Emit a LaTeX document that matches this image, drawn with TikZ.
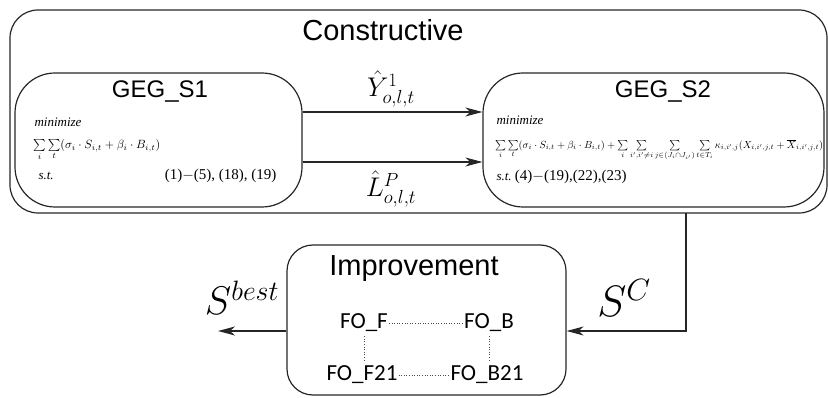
\RequirePackage{fix-cm}
\documentclass[tikz,border=0pt]{standalone}
\usepackage{amsmath,amssymb}
\usepackage{graphicx}
\usepackage{fontspec}
\setmainfont{Liberation Serif}
\setsansfont{Liberation Sans}
\newfontfamily\calfont{Carlito}
\usepackage{tikz}
\usetikzlibrary{arrows.meta,positioning,calc}

\begin{document}
\begin{tikzpicture}[x=1pt,y=-1pt,>={Stealth[length=17pt,width=9pt,inset=5pt]},
  box/.style={draw=black!85,line width=1.2pt,rounded corners=#1,inner sep=0pt},
  arr/.style={->,draw=black!85,line width=1.2pt},
  title/.style={font=\sffamily\fontsize{29}{32}\selectfont},
  stage/.style={font=\sffamily\fontsize{24}{26}\selectfont},
  fo/.style={font=\calfont\fontsize{23}{25}\selectfont,inner sep=1pt},
  dots/.style={dotted,draw=black!70,line width=0.6pt},
  minz/.style={anchor=west,font=\itshape\fontsize{13}{15}\selectfont}]
\useasboundingbox (0,0) rectangle (828,398);

% boxes
\node[box=28pt,minimum width=817pt,minimum height=203pt] (cons) at (418.5,111.5) {};
\node[box=40pt,minimum width=287pt,minimum height=134pt] (s1) at (158.5,140) {};
\node[box=40pt,minimum width=341pt,minimum height=134pt] (s2) at (653.5,140) {};
\node[box=26pt,minimum width=279pt,minimum height=150pt] (imp) at (426.5,320) {};

\node[title] (constitle) at (383,30) {Constructive};
\node[stage] (s1title) at (160,92) {GEG\_S1};
\node[stage] (s2title) at (663,92) {GEG\_S2};
\node[title] (imptitle) at (414,269) {Improvement};

% GEG_S1 model
\node[minz] (s1min) at (31,122) {minimize};
\node[anchor=west,inner sep=0pt] (s1obj) at (33,150)
  {\resizebox{127pt}{!}{$\sum\limits_i\sum\limits_t(\sigma_i\cdot S_{i,t}+\beta_i\cdot B_{i,t})$}};
\node[minz] (s1st) at (35,176) {s.t.};
\node[anchor=east,font=\fontsize{15}{17}\selectfont] (s1con) at (280,176) {(1)$-$(5), (18), (19)};

% GEG_S2 model
\node[minz] (s2min) at (493,120) {minimize};
\node[anchor=west,inner sep=0pt] (s2obj) at (495,150)
  {\resizebox{328pt}{!}{$\sum\limits_i\sum\limits_t(\sigma_i\cdot S_{i,t}+\beta_i\cdot B_{i,t})+\sum\limits_i\sum\limits_{i',i'\neq i}\sum\limits_{j\in(J_i\cap J_{i'})}\sum\limits_{t\in T_i}\kappa_{i,i',j}(X_{i,i',j,t}+\overline{X}_{i,i',j,t})$}};
\node[minz] (s2st) at (493,177) {s.t.\ \upshape\fontsize{15}{17}\selectfont(4)$-$(19),(22),(23)};

% links between stages
\draw[arr] ([yshift=28pt]s1.east) -- ([yshift=28pt]s2.west);
\draw[arr] ([yshift=-22pt]s1.east) -- ([yshift=-22pt]s2.west);
\node[font=\fontsize{27}{30}\selectfont,inner sep=1pt] (ylab) at (391,89) {$\hat{Y}^{1}_{o,l,t}$};
\node[font=\fontsize{27}{30}\selectfont,inner sep=1pt] (llab) at (391,189) {$\hat{L}^{P}_{o,l,t}$};

% improvement
\node[fo] (fof) at (364,323) {FO\_F};
\node[fo] (fob) at (489,323) {FO\_B};
\node[fo] (fof21) at (362,375) {FO\_F21};
\node[fo] (fob21) at (487,375) {FO\_B21};
\draw[dots] (fof) -- (fob);
\draw[dots] (fof21) -- (fob21);
\draw[dots] ([yshift=-3pt]fof.south) -- ([yshift=3pt]fof.south |- fof21.north);
\draw[dots] ([yshift=-3pt]fob.south) -- ([yshift=3pt]fob.south |- fob21.north);

\coordinate (tap) at (686,213);
\coordinate (out) at (218,331);
\draw[arr] (tap) |- ([yshift=-11pt]imp.east);
\draw[arr] ([yshift=-11pt]imp.west) -- (out);
\node[font=\fontsize{44}{48}\selectfont] (sc) at (624,298) {$S^{C}$};
\node[font=\fontsize{40}{44}\selectfont] (sbest) at (242,298) {$S^{best}$};
\end{tikzpicture}
\end{document}
